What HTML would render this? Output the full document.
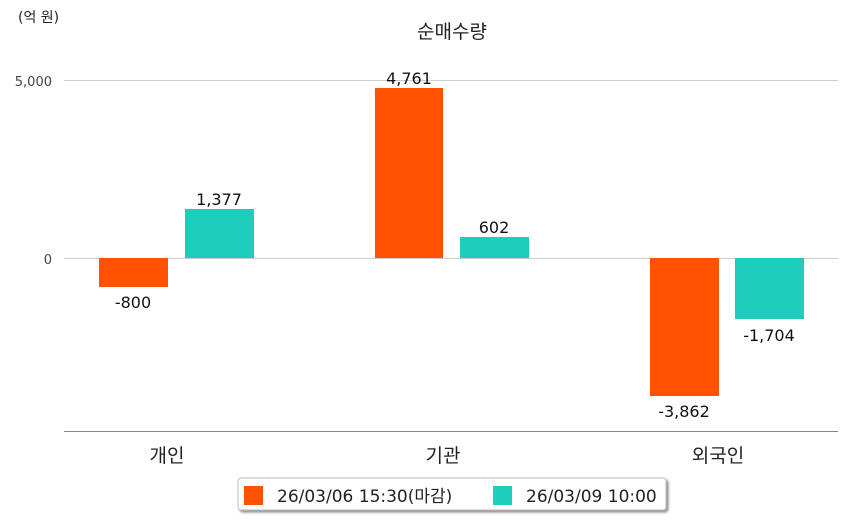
<!DOCTYPE html>
<html><head><meta charset="utf-8"><style>
body{margin:0;background:#fff;}
svg text{font-family:"DejaVu Sans","Noto Sans CJK KR",sans-serif;}
</style></head><body>
<svg width="849" height="520" xmlns="http://www.w3.org/2000/svg">
<defs><filter id="sh" x="-5%" y="-20%" width="110%" height="160%"><feDropShadow dx="2" dy="2" stdDeviation="1.2" flood-color="#000" flood-opacity="0.45"/></filter></defs>
<rect width="849" height="520" fill="#fff"/>
<text x="18" y="22" font-size="14" fill="#222">(억 원)</text>
<text x="452" y="38" font-size="19" fill="#222" text-anchor="middle">순매수량</text>
<line x1="64" y1="80.5" x2="838" y2="80.5" stroke="#ccc"/>
<line x1="64" y1="258.5" x2="838" y2="258.5" stroke="#ccc"/>
<text x="52" y="86" font-size="13" fill="#444" text-anchor="end">5,000</text>
<text x="52" y="264" font-size="13" fill="#444" text-anchor="end">0</text>
<line x1="64" y1="431.5" x2="838" y2="431.5" stroke="#888"/>
<rect x="99" y="258" width="69" height="29" fill="#ff5100"/>
<rect x="185" y="209" width="69" height="49" fill="#1ecdbc"/>
<rect x="375" y="88" width="68" height="170" fill="#ff5100"/>
<rect x="460" y="237" width="69" height="21" fill="#1ecdbc"/>
<rect x="650" y="258" width="69" height="138" fill="#ff5100"/>
<rect x="735" y="258" width="69" height="61" fill="#1ecdbc"/>
<g font-size="16" fill="#111" text-anchor="middle">
<text x="133" y="308">-800</text>
<text x="219" y="205">1,377</text>
<text x="409" y="84">4,761</text>
<text x="494" y="233">602</text>
<text x="684" y="417">-3,862</text>
<text x="769" y="341">-1,704</text>
</g>
<g font-size="19" fill="#222" text-anchor="middle">
<text x="167" y="462">개인</text>
<text x="443" y="462">기관</text>
<text x="718" y="462">외국인</text>
</g>
<rect x="238" y="478" width="428" height="32" rx="3" fill="#fff" stroke="#bbb" filter="url(#sh)"/>
<rect x="244" y="486" width="19" height="19" fill="#ff5100"/>
<text x="277" y="502" font-size="17" fill="#222">26/03/06 15:30(마감)</text>
<rect x="493" y="486" width="19" height="19" fill="#1ecdbc"/>
<text x="526" y="502" font-size="17" fill="#222">26/03/09 10:00</text>
</svg>
</body></html>
